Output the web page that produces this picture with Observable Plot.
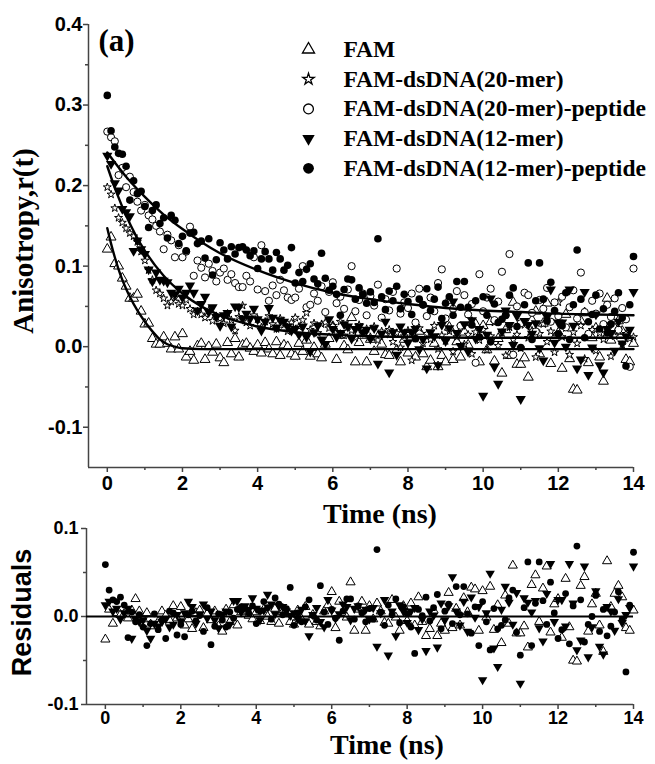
<!DOCTYPE html>
<html><head><meta charset="utf-8">
<script src="https://cdn.jsdelivr.net/npm/d3@7"></script>
<script src="https://cdn.jsdelivr.net/npm/@observablehq/plot@0.6"></script>
<style>
html,body{margin:0;padding:0;background:#fff;}
#chart{width:655px;}
#chart svg{display:block;}
</style></head><body><div id="chart"></div>
<script>
// ---------- data ----------
const times = [
0,0.1,0.2,0.3,0.4,0.5,0.6,0.7,0.8,0.9,
1,1.1,1.2,1.3,1.4,1.5,1.6,1.7,1.8,1.9,
2,2.1,2.2,2.3,2.4,2.5,2.6,2.7,2.8,2.9,
3,3.1,3.2,3.3,3.4,3.5,3.6,3.7,3.8,3.9,
4,4.1,4.2,4.3,4.4,4.5,4.6,4.7,4.8,4.9,
5,5.1,5.2,5.3,5.4,5.5,5.6,5.7,5.8,5.9,
6,6.1,6.2,6.3,6.4,6.5,6.6,6.7,6.8,6.9,
7,7.1,7.2,7.3,7.4,7.5,7.6,7.7,7.8,7.9,
8,8.1,8.2,8.3,8.4,8.5,8.6,8.7,8.8,8.9,
9,9.1,9.2,9.3,9.4,9.5,9.6,9.7,9.8,9.9,
10,10.1,10.2,10.3,10.4,10.5,10.6,10.7,10.8,10.9,
11,11.1,11.2,11.3,11.4,11.5,11.6,11.7,11.8,11.9,
12,12.1,12.2,12.3,12.4,12.5,12.6,12.7,12.8,12.9,
13,13.1,13.2,13.3,13.4,13.5,13.6,13.7,13.8,13.9,
14];

const famR = [
0.121,0.136,0.103,0.100,0.085,0.075,0.060,0.060,0.065,0.044,
0.028,0.029,0.010,0.003,0.003,0.012,0.004,-0.003,0.012,-0.003,
0.016,-0.013,-0.006,-0.017,0.001,0.004,-0.016,0.000,-0.007,0.003,
-0.014,-0.020,0.005,-0.009,0.010,-0.013,0.002,0.004,-0.002,-0.006,
0.002,-0.008,0.005,-0.003,-0.009,0.006,-0.011,0.002,0.000,-0.009,
-0.012,0.004,-0.006,0.008,-0.012,-0.001,-0.009,-0.014,0.003,0.010,
0.025,-0.016,0.014,0.001,-0.004,0.036,-0.019,0.005,0.014,-0.019,
0.009,-0.006,0.012,0.003,-0.010,-0.011,0.016,-0.004,-0.019,0.009,
-0.008,0.012,-0.013,0.019,-0.009,-0.025,-0.017,0.004,-0.025,-0.011,
-0.019,0.024,-0.016,0.006,-0.013,0.018,0.002,0.030,0.028,-0.019,
0.026,-0.004,0.031,-0.018,0.010,-0.033,0.021,-0.011,0.055,-0.022,
-0.022,-0.014,-0.038,0.033,0.044,-0.009,0.029,0.054,-0.021,0.011,
0.017,-0.027,0.040,-0.015,-0.053,-0.054,0.032,0.042,-0.020,0.011,
0.023,-0.013,-0.043,0.060,0.008,0.023,0.032,0.019,-0.016,-0.019,
0.004];

const dna20R = [
0.198,0.189,0.172,0.160,0.154,0.147,0.141,0.137,0.130,0.118,
0.107,0.095,0.083,0.070,0.066,0.060,0.051,0.056,0.061,0.053,
0.051,0.058,0.047,0.040,0.044,0.040,0.036,0.045,0.032,0.038,
0.035,0.029,0.041,0.033,0.020,0.037,0.051,0.030,0.026,0.039,
0.034,0.024,0.031,0.038,0.028,0.022,0.035,0.027,0.019,0.030,
0.036,0.025,0.033,0.042,0.021,0.029,0.017,0.028,0.030,0.023,
0.026,0.018,0.031,0.014,0.024,0.020,0.011,0.027,0.016,0.022,
0.012,0.025,0.008,0.019,0.015,0.021,0.006,0.017,-0.001,0.013,
0.020,-0.017,0.010,0.023,0.004,0.016,0.009,0.026,-0.003,0.014,
0.007,0.019,-0.006,0.012,0.025,0.003,0.015,-0.009,0.018,0.008,
0.021,-0.004,0.013,0.030,0.001,0.017,-0.011,0.024,0.009,0.015,
-0.002,0.027,0.011,0.020,-0.013,0.016,0.028,0.006,0.019,-0.007,
0.055,0.012,0.023,-0.010,0.018,0.004,0.026,-0.015,0.014,0.021,
-0.005,0.017,0.009,0.025,-0.012,0.013,0.020,0.002,0.016,0.010,
0.012];

const dna20PepR = [
0.267,0.260,0.255,0.213,0.222,0.198,0.211,0.192,0.180,0.169,
0.176,0.163,0.158,0.150,0.143,0.121,0.139,0.132,0.111,0.126,
0.111,0.118,0.149,0.088,0.107,0.098,0.086,0.103,0.094,0.081,
0.092,0.097,0.083,0.090,0.079,0.074,0.074,0.088,0.081,0.111,
0.071,0.126,0.069,0.057,0.076,0.064,0.083,0.070,0.061,0.058,
0.061,0.072,0.100,0.049,0.052,0.066,0.057,0.075,0.043,0.068,
0.080,0.054,0.062,0.047,0.071,0.100,0.044,0.058,0.066,0.039,
0.063,0.051,0.077,0.036,0.059,0.045,0.068,0.097,0.041,0.055,
0.048,0.066,0.030,0.072,0.052,0.038,0.061,0.044,0.079,0.096,
0.035,0.058,0.047,0.069,0.026,0.064,0.040,0.053,-0.020,0.090,
0.044,0.061,0.072,0.033,0.056,0.093,0.039,0.115,-0.010,0.050,
0.029,0.067,0.064,0.042,0.019,0.058,0.047,0.073,0.031,0.055,
0.038,0.062,0.024,0.049,0.070,0.035,0.092,0.043,0.016,0.057,
0.041,0.066,0.028,0.052,0.037,0.060,0.021,0.048,0.034,-0.025,
0.097];

const dna12R = [
0.237,0.227,0.203,0.194,0.171,0.167,0.162,0.119,0.132,0.121,
0.115,0.096,0.081,0.092,0.083,0.082,0.080,0.067,0.065,0.072,
0.061,0.067,0.076,0.067,0.045,0.053,0.062,0.043,0.049,0.037,
0.026,0.039,0.042,0.025,0.050,0.049,0.035,0.041,0.035,0.047,
0.034,0.020,0.031,0.048,0.036,0.024,0.033,0.031,0.025,0.020,
0.022,0.015,0.025,0.012,-0.006,0.018,0.026,0.009,0.003,0.034,
0.022,0.012,0.017,0.028,0.025,0.010,0.022,0.025,0.018,0.021,
0.010,0.023,-0.021,0.016,0.031,-0.032,0.018,-0.010,0.025,0.018,
0.005,0.018,0.022,-0.003,0.009,-0.027,0.018,0.013,-0.023,0.027,
0.007,0.023,0.056,0.017,0.001,0.028,-0.006,0.033,0.010,0.022,
-0.061,0.015,0.060,-0.025,-0.046,0.019,0.045,0.027,0.002,0.038,
-0.065,0.032,0.027,0.016,0.029,-0.002,-0.017,0.037,0.071,0.005,
0.030,0.030,0.000,0.071,0.026,-0.027,-0.016,0.068,-0.035,-0.001,
0.040,-0.023,-0.032,0.022,0.017,-0.005,0.031,0.004,0.013,0.021,
0.068];

const dna12PepR = [
0.312,0.268,0.248,0.240,0.239,0.224,0.182,0.206,0.190,0.193,
0.174,0.148,0.169,0.176,0.153,0.160,0.135,0.163,0.157,0.128,
0.137,0.119,0.141,0.142,0.128,0.131,0.110,0.134,0.089,0.108,
0.129,0.120,0.109,0.124,0.115,0.123,0.124,0.120,0.113,0.119,
0.097,0.109,0.118,0.109,0.095,0.117,0.109,0.095,0.101,0.123,
0.079,0.092,0.081,0.096,0.103,0.084,0.078,0.116,0.085,0.070,
0.075,0.065,0.039,0.071,0.084,0.083,0.059,0.073,0.065,0.054,
0.068,0.055,0.134,0.062,0.046,0.069,0.057,0.075,0.047,0.065,
0.056,0.040,0.010,0.059,0.052,0.072,0.045,0.059,0.074,0.035,
0.054,0.062,0.039,0.081,0.049,0.081,0.049,0.027,0.057,0.012,
0.062,0.039,0.006,0.053,0.030,0.034,0.039,0.064,0.073,0.025,
-0.001,0.052,0.104,0.009,0.057,0.104,0.059,0.032,0.080,0.045,
0.016,0.026,0.067,0.009,0.052,0.120,0.059,0.011,0.031,0.040,
0.064,0.022,0.047,0.017,0.028,0.044,0.067,0.036,-0.024,0.052,
0.112];

// residuals
const famRes = [
-0.026,0.008,-0.008,0.004,0.002,0.003,-0.002,0.007,0.020,0.006,
-0.003,0.004,-0.009,-0.011,-0.006,0.006,0.001,-0.004,0.012,-0.002,
0.011,-0.010,-0.003,-0.014,0.004,0.007,-0.013,0.003,-0.004,0.006,
-0.011,-0.017,0.008,-0.006,0.013,-0.010,0.005,0.007,0.001,-0.003,
0.005,-0.005,0.008,0.000,-0.006,0.009,-0.008,0.005,0.003,-0.006,
-0.009,0.007,-0.003,0.011,-0.009,0.002,-0.006,-0.011,0.006,0.013,
0.028,-0.013,0.017,0.004,-0.001,0.039,-0.016,0.008,0.017,-0.016,
0.012,-0.003,0.015,0.006,-0.007,-0.008,0.019,-0.001,-0.016,0.012,
-0.005,0.015,-0.010,0.022,-0.006,-0.022,-0.014,0.007,-0.022,-0.008,
-0.016,0.027,-0.013,0.009,-0.010,0.021,0.005,0.033,0.031,-0.016,
0.029,-0.001,0.034,-0.015,0.013,-0.030,0.024,-0.008,0.058,-0.019,
-0.019,-0.011,-0.035,0.036,0.047,-0.006,0.032,0.057,-0.018,0.014,
0.020,-0.024,0.043,-0.012,-0.050,-0.051,0.035,0.045,-0.017,0.014,
0.026,-0.010,-0.040,0.063,0.011,0.026,0.035,0.022,-0.013,-0.016,
0.007];

const dna12Res = [
0.013,0.017,0.006,0.009,-0.003,0.004,0.009,-0.025,-0.003,-0.006,
-0.004,-0.016,-0.025,-0.008,-0.011,-0.006,-0.003,-0.012,-0.009,0.002,
-0.005,0.004,0.017,0.011,-0.008,0.003,0.014,-0.002,0.006,-0.004,
-0.013,0.002,0.006,-0.009,0.018,0.018,0.005,0.012,0.008,0.021,
0.009,-0.004,0.007,0.025,0.014,0.003,0.012,0.011,0.006,0.001,
0.004,-0.003,0.008,-0.005,-0.022,0.002,0.010,-0.006,-0.012,0.019,
0.007,-0.002,0.003,0.014,0.011,-0.004,0.009,0.012,0.005,0.008,
-0.003,0.010,-0.034,0.004,0.019,-0.044,0.006,-0.022,0.013,0.006,
-0.007,0.006,0.010,-0.015,-0.003,-0.039,0.006,0.001,-0.035,0.015,
-0.004,0.012,0.045,0.006,-0.010,0.017,-0.017,0.022,-0.001,0.011,
-0.072,0.004,0.049,-0.036,-0.057,0.008,0.034,0.016,-0.009,0.027,
-0.076,0.021,0.016,0.005,0.018,-0.013,-0.028,0.026,0.060,-0.006,
0.019,0.019,-0.011,0.060,0.015,-0.038,-0.027,0.057,-0.046,-0.012,
0.029,-0.034,-0.043,0.011,0.006,-0.016,0.020,-0.007,0.002,0.010,
0.057];

const dna12PepRes = [
0.059,0.030,0.019,0.017,0.022,0.013,-0.024,0.005,-0.006,0.002,
-0.012,-0.033,-0.008,0.003,-0.015,-0.004,-0.025,0.006,0.004,-0.021,
-0.009,-0.023,0.002,0.006,-0.005,0.001,-0.017,0.010,-0.032,-0.011,
0.003,-0.004,-0.012,0.005,-0.002,0.008,0.011,0.009,0.004,0.012,
-0.008,0.006,0.017,0.010,-0.003,0.021,0.014,0.002,0.009,0.033,
-0.010,0.004,-0.006,0.011,0.019,0.001,-0.004,0.035,0.005,-0.009,
0.008,-0.002,-0.027,0.006,0.020,0.020,-0.003,0.012,0.004,-0.006,
0.009,-0.003,0.076,0.005,-0.010,0.013,0.002,0.020,-0.007,0.011,
0.003,-0.012,-0.042,0.008,0.001,0.022,-0.005,0.010,0.025,-0.014,
0.006,0.014,-0.008,0.034,0.002,0.034,0.003,-0.019,0.011,-0.033,
0.017,-0.006,-0.038,0.009,-0.014,-0.010,-0.004,0.021,0.030,-0.018,
-0.044,0.010,0.062,-0.033,0.015,0.062,0.018,-0.009,0.039,0.004,
-0.025,-0.015,0.026,-0.031,0.012,0.080,0.019,-0.029,-0.009,0.000,
0.024,-0.017,0.008,-0.022,-0.011,0.005,0.028,-0.003,-0.063,0.013,
0.073];

// fitted curves (read at sample times)
const fitFamT = [0,0.1,0.2,0.3,0.4,0.5,0.6,0.8,1.0,1.2,1.4,1.6,1.8,2.0,2.5,14];
const fitFamV = [0.147,0.128,0.111,0.096,0.083,0.072,0.062,0.045,0.031,0.019,0.009,0.003,0.000,-0.002,-0.003,-0.003];
const fit12T = [0,0.25,0.5,0.75,1,1.5,2,2.5,3,3.5,4,5,6,7,8,10,14];
const fit12V = [0.224,0.191,0.163,0.139,0.119,0.088,0.066,0.050,0.039,0.031,0.025,0.018,0.015,0.013,0.012,0.011,0.011];
const fitPepT = [0,0.5,1,1.5,2,2.5,3,4,5,6,7,8,9,10,11,12,13,14];
const fitPepV = [0.241,0.211,0.186,0.164,0.146,0.130,0.116,0.095,0.079,0.067,0.059,0.053,0.048,0.045,0.043,0.041,0.040,0.039];

const seriesNames = ["FAM","FAM-dsDNA(20-mer)","FAM-dsDNA(20-mer)-peptide","FAM-dsDNA(12-mer)","FAM-dsDNA(12-mer)-peptide"];

const xDomain = [-0.5, 14];
const yDomainTop = [-0.15, 0.4];
const yDomainRes = [-0.1, 0.1];
const xMajor = [0,2,4,6,8,10,12,14];
const xMinor = [1,3,5,7,9,11,13];
const yMajorTop = [-0.1,0,0.1,0.2,0.3,0.4];
const yMinorTop = [-0.05,0.05,0.15,0.25,0.35];
const yMajorRes = [-0.1,0,0.1];
const yMinorRes = [-0.05,0.05];

// ---------- styling ----------
const triDown = {draw(ctx, size){
  const y = Math.sqrt(size / (3 * Math.sqrt(3)));
  ctx.moveTo(0, 2 * y); ctx.lineTo(-Math.sqrt(3) * y, -y); ctx.lineTo(Math.sqrt(3) * y, -y); ctx.closePath();
}};
const styles = [
  {symbol: "triangle", fill: "white", stroke: "black", strokeWidth: 1, r: 3.7, lr: 4.5},
  {symbol: "star", fill: "white", stroke: "black", strokeWidth: 1, r: 2.5, lr: 3.6},
  {symbol: "circle", fill: "white", stroke: "black", strokeWidth: 1, r: 3.6, lr: 4.9},
  {symbol: triDown, fill: "black", stroke: "none", strokeWidth: 0, r: 3.8, lr: 4.6},
  {symbol: "circle", fill: "black", stroke: "none", strokeWidth: 0, r: 3.8, lr: 5.4}
];
const SERIF = "'Liberation Serif','Times New Roman',serif";
const SANS = "'Liberation Sans',Arial,sans-serif";
const AX = "#444";

const rows = vals => times.map((t, i) => ({t, v: vals[i]}));
const pairs = (ts, vs) => ts.map((t, i) => ({t, v: vs[i]}));
const topSeries = [famR, dna20R, dna20PepR, dna12R, dna12PepR];

function dots(vals, s, r) {
  return Plot.dot(rows(vals), {x: "t", y: "v", symbol: s.symbol, fill: s.fill, stroke: s.stroke, strokeWidth: s.strokeWidth, r: r ?? s.r});
}

function axes(yMajor, yMinor, yMin, xTickPad, yTickPad) {
  return [
    Plot.ruleX([xDomain[0]], {stroke: AX, strokeWidth: 1.5}),
    Plot.ruleY([yMin], {stroke: AX, strokeWidth: 1.5}),
    Plot.axisX({ticks: xMajor, tickSize: 5, tickPadding: xTickPad, tickFormat: d => String(d), label: null, stroke: AX, strokeWidth: 1.5}),
    Plot.axisX({ticks: xMinor, tickSize: 3, tickFormat: () => "", label: null, stroke: AX, strokeWidth: 1.5}),
    Plot.axisY({ticks: yMajor, tickSize: 5, tickPadding: yTickPad, tickFormat: d => d.toFixed(1), label: null, stroke: AX, strokeWidth: 1.5}),
    Plot.axisY({ticks: yMinor, tickSize: 3, tickFormat: () => "", label: null, stroke: AX, strokeWidth: 1.5})
  ];
}

const legend = seriesNames.flatMap((name, i) => [
  Plot.dot([name], {frameAnchor: "top-left", dx: 220, dy: 25 + i * 29.7, symbol: styles[i].symbol, fill: styles[i].fill, stroke: styles[i].stroke, strokeWidth: styles[i].strokeWidth ? 1.3 : 0, r: styles[i].lr}),
  Plot.text([name], {frameAnchor: "top-left", dx: 255, dy: 25 + i * 29.7, text: d => d, textAnchor: "start", lineAnchor: "middle", fontFamily: SERIF, fontSize: 23.5, fontWeight: "bold", fill: "black"})
]);

const topChart = Plot.plot({
  width: 655, height: 526,
  marginLeft: 88, marginRight: 22, marginTop: 24, marginBottom: 59,
  x: {domain: xDomain}, y: {domain: yDomainTop},
  style: {fontFamily: SANS, fontWeight: "bold", fontSize: "20px", color: "black", background: "white", overflow: "visible"},
  marks: [
    ...axes(yMajorTop, yMinorTop, yDomainTop[0], 3, 1),
    ...topSeries.map((vals, i) => dots(vals, styles[i])),
    Plot.line(pairs(fitFamT, fitFamV), {x: "t", y: "v", curve: "monotone-x", stroke: "black", strokeWidth: 2.4}),
    Plot.line(pairs(fit12T, fit12V), {x: "t", y: "v", curve: "monotone-x", stroke: "black", strokeWidth: 2.4}),
    Plot.line(pairs(fitPepT, fitPepV), {x: "t", y: "v", curve: "monotone-x", stroke: "black", strokeWidth: 2.4}),
    Plot.text(["(a)"], {frameAnchor: "top-left", dx: 10, dy: 17, text: d => d, textAnchor: "start", lineAnchor: "middle", fontFamily: SERIF, fontSize: 31, fontWeight: "bold"}),
    Plot.text(["Anisotropy,r(t)"], {frameAnchor: "left", dx: -65, dy: -5, rotate: -90, text: d => d, textAnchor: "middle", lineAnchor: "middle", fontFamily: SERIF, fontSize: 29, fontWeight: "bold"}),
    Plot.text(["Time (ns)"], {frameAnchor: "bottom", dx: 19, dy: 47, text: d => d, textAnchor: "middle", lineAnchor: "middle", fontFamily: SERIF, fontSize: 28, fontWeight: "bold"}),
    ...legend
  ]
});

const bottomChart = Plot.plot({
  width: 655, height: 238,
  marginLeft: 86, marginRight: 22, marginTop: 2, marginBottom: 60,
  x: {domain: xDomain}, y: {domain: yDomainRes},
  style: {fontFamily: SANS, fontWeight: "bold", fontSize: "18px", color: "black", background: "transparent", overflow: "visible"},
  marks: [
    ...axes(yMajorRes, yMinorRes, yDomainRes[0], 2, 3),
    dots(famRes, styles[0], 3.4),
    dots(dna12Res, styles[3], 3.5),
    dots(dna12PepRes, styles[4], 3.4),
    Plot.ruleY([0], {stroke: "black", strokeWidth: 2}),
    Plot.text(["Residuals"], {frameAnchor: "left", dx: -64, dy: -4, rotate: -90, text: d => d, textAnchor: "middle", lineAnchor: "middle", fontFamily: SANS, fontSize: 27, fontWeight: "bold"}),
    Plot.text(["Time (ns)"], {frameAnchor: "bottom", dx: 27, dy: 41, text: d => d, textAnchor: "middle", lineAnchor: "middle", fontFamily: SERIF, fontSize: 28, fontWeight: "bold"})
  ]
});

const host = document.getElementById("chart");
host.appendChild(topChart);
host.appendChild(bottomChart);
</script>
</body></html>
